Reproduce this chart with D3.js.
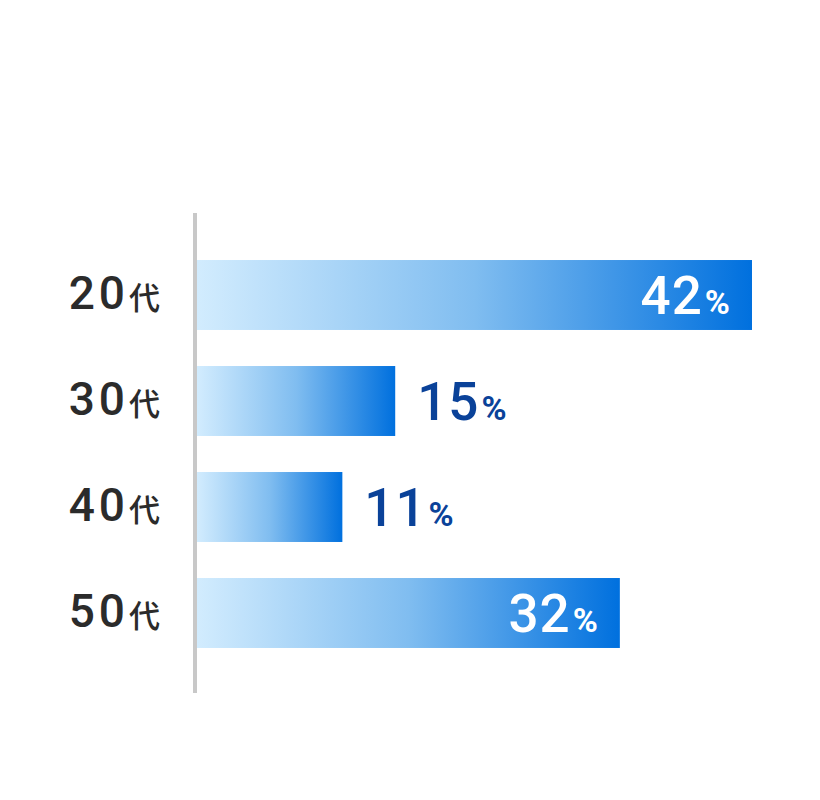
<!DOCTYPE html>
<html>
<head>
<meta charset="utf-8">
<script src="https://cdn.jsdelivr.net/npm/d3@7"></script>
<style>
  body { margin: 0; background: #fff; }
  text { font-family: Roboto, "Noto Sans CJK JP", sans-serif; }
</style>
</head>
<body>
<script>
// age groups and share (%)
var ages = ["20", "30", "40", "50"];
var ageSuffix = "代";
var shares = [42, 15, 11, 32];

var W = 820, H = 800;
var svg = d3.select("body").append("svg").attr("width", W).attr("height", H);

var x = d3.scaleLinear().domain([0, 42]).range([197, 752]);
var y = d3.scaleBand().domain(ages).range([242, 666]).paddingInner(0.34).paddingOuter(0.17);

var defs = svg.append("defs");
var grad = defs.append("linearGradient").attr("id", "barGrad")
  .attr("x1", "0%").attr("x2", "100%").attr("y1", "0%").attr("y2", "0%");
grad.append("stop").attr("offset", "0%").attr("stop-color", "#d2ecfe");
grad.append("stop").attr("offset", "50%").attr("stop-color", "#80bdf0");
grad.append("stop").attr("offset", "100%").attr("stop-color", "#0070de");

var rows = ages.map(function (a, i) { return { age: a, v: shares[i] }; });

svg.selectAll("rect.bar").data(rows).enter().append("rect")
  .attr("class", "bar")
  .attr("x", x(0))
  .attr("y", function (d) { return y(d.age); })
  .attr("width", function (d) { return x(d.v) - x(0); })
  .attr("height", y.bandwidth())
  .attr("fill", "url(#barGrad)");

// axis line
svg.append("line")
  .attr("x1", 195).attr("x2", 195)
  .attr("y1", 213).attr("y2", 693)
  .attr("stroke", "#c8c8c8").attr("stroke-width", 4);

// category labels
var cat = svg.selectAll("text.cat").data(rows).enter().append("text")
  .attr("class", "cat")
  .attr("x", 160)
  .attr("y", function (d) { return y(d.age) + y.bandwidth() / 2 + 14; })
  .attr("text-anchor", "end")
  .attr("fill", "#2b2b2b");
cat.append("tspan").attr("font-size", 46).attr("font-weight", 500)
  .attr("letter-spacing", 4).text(function (d) { return d.age; });
cat.append("tspan").attr("font-size", 31).attr("font-weight", 500)
  .attr("dx", 0).text(ageSuffix);

// value labels
var val = svg.selectAll("text.val").data(rows).enter().append("text")
  .attr("class", "val")
  .attr("x", function (d) { return d.v > 20 ? x(d.v) - 22 : x(d.v) + 22; })
  .attr("y", function (d) { return y(d.age) + y.bandwidth() / 2 + 19; })
  .attr("text-anchor", function (d) { return d.v > 20 ? "end" : "start"; })
  .attr("fill", function (d) { return d.v > 20 ? "#ffffff" : "#0a4299"; });
val.append("tspan").attr("font-size", 53).attr("font-weight", 500)
  .attr("letter-spacing", 1).text(function (d) { return d.v; });
val.append("tspan").attr("font-size", 34).attr("font-weight", 700)
  .attr("dx", 2).text("%");
</script>
</body>
</html>
